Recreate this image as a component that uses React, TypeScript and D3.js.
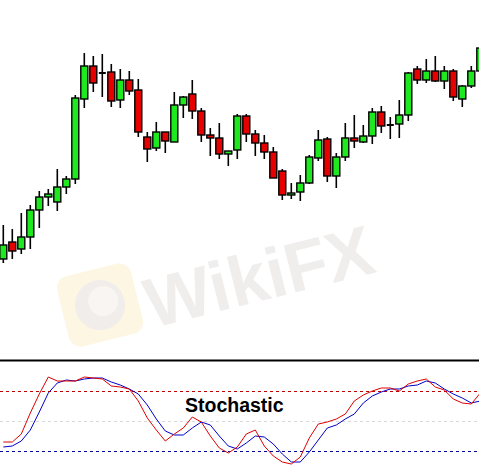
import React from "react";
import * as d3 from "d3";

const W = 479;
const H = 475;

// Candles (arbitrary price units)
const opens = [41,58,51,63,90,103,98,113,121,201,234,227,228,200,220,210,163,152,168,158,195,206,189,165,162,146,150,184,166,157,148,129,105,108,117,142,161,124,143,162,158,164,188,175,176,185,231,220,229,219,229,201,214,229];
const highs = [75,71,87,95,109,111,131,124,205,247,244,246,236,231,229,221,168,178,168,208,204,220,192,172,177,149,186,186,170,165,153,131,117,125,145,170,163,147,177,185,175,192,194,183,200,228,234,241,244,234,231,215,234,256];
const lows = [37,41,46,51,72,94,89,106,116,192,208,203,193,192,205,163,138,149,147,158,182,181,158,144,141,134,141,158,144,141,122,100,101,99,116,139,118,112,139,152,157,156,167,161,162,179,216,217,218,211,199,193,212,229];
const closes = [55,49,63,90,103,106,113,121,202,234,217,227,199,220,209,168,151,168,159,195,203,189,165,162,146,149,184,166,157,148,122,105,107,117,143,160,124,143,162,159,164,188,174,175,185,227,220,229,219,229,203,214,229,252];

// Stochastic %K (red) and %D (blue)
const stochK = [29,29,37,58,77,94,90,90,90,94,93,92,85,84,82,70,53,41,30,37,43,54,49,35,23,18,24,37,41,25,15,9,7,14,33,47,49,52,57,70,76,80,83,83,80,87,90,92,84,81,72,68,67,78];
const stochD = [24,25,30,41,59,78,88,91,90,92,93,93,89,86,82,77,66,52,40,36,36,43,49,46,35,25,22,28,35,34,27,17,9,9,19,31,43,46,52,57,68,75,79,82,82,85,86,90,88,82,77,73,68,70];
const levels = [80, 50, 20];
const title = "Stochastic";

export default function App() {
  const n = opens.length;
  const x = d3.scaleLinear().domain([0, n - 1]).range([3.3, 480.3]);
  const y = d3.scaleLinear().domain([0, 300]).range([300, 0]);
  const ys = d3.scaleLinear().domain([0, 100]).range([471, 371]);
  const bw = 7;

  const line = d3
    .line<number>()
    .x((_, i) => x(i))
    .y((d) => ys(d))
    .curve(d3.curveLinear);

  const levelColors = ["#c00000", "#d8d8d8", "#00009a"];

  return (
    <svg
      width={W}
      height={H}
      style={{ position: "absolute", left: 0, top: 0, background: "#fff" }}
    >
      <rect x={0} y={0} width={W} height={H} fill="#fff" />
      {/* watermark */}
      <g opacity={0.5}>
        <g transform="translate(100,305) rotate(-14)">
          <rect x={-38} y={-36} width={76} height={72} rx={12} fill="#fbeec8" />
          <circle cx={0} cy={0} r={25} fill="#e2dcd8" />
          <circle cx={4} cy={-3} r={15} fill="#f3ede6" />
        </g>
        <text
          x={265}
          y={300}
          transform="rotate(-14,265,300)"
          textAnchor="middle"
          fontFamily="Liberation Sans, Arial, sans-serif"
          fontWeight="bold"
          fontSize={70}
          fill="#e2dcdc"
        >
          WikiFX
        </text>
      </g>

      {/* candles */}
      {opens.map((o, i) => {
        const c = closes[i];
        const up = c > o;
        const doji = c === o;
        const top = y(Math.max(o, c));
        const bot = y(Math.min(o, c));
        const cx = x(i);
        return (
          <g key={i}>
            <line
              x1={cx}
              x2={cx}
              y1={y(highs[i])}
              y2={y(lows[i])}
              stroke="#000"
              strokeWidth={1.6}
            />
            {doji ? (
              <line
                x1={cx - bw / 2}
                x2={cx + bw / 2}
                y1={top}
                y2={top}
                stroke="#000"
                strokeWidth={2}
              />
            ) : (
              <rect
                x={cx - bw / 2}
                y={top}
                width={bw}
                height={Math.max(bot - top, 1.5)}
                fill={up ? "#1ee81e" : "#e60000"}
                stroke="#000"
                strokeWidth={1.4}
              />
            )}
          </g>
        );
      })}

      {/* separator */}
      <line x1={0} x2={W} y1={360.5} y2={360.5} stroke="#000" strokeWidth={2} />

      {/* stochastic levels */}
      {levels.map((lv, i) => (
        <line
          key={lv}
          x1={0}
          x2={W}
          y1={ys(lv) + 0.5}
          y2={ys(lv) + 0.5}
          stroke={levelColors[i]}
          strokeWidth={1}
          strokeDasharray="3,3"
        />
      ))}

      <path d={line(stochD) || ""} fill="none" stroke="#0000c8" strokeWidth={1} />
      <path d={line(stochK) || ""} fill="none" stroke="#dd0000" strokeWidth={1} />

      <text
        x={185}
        y={411.5}
        fontFamily="Liberation Sans, Arial, sans-serif"
        fontWeight="bold"
        fontSize={19.5}
        fill="#000"
      >
        {title}
      </text>
    </svg>
  );
}
